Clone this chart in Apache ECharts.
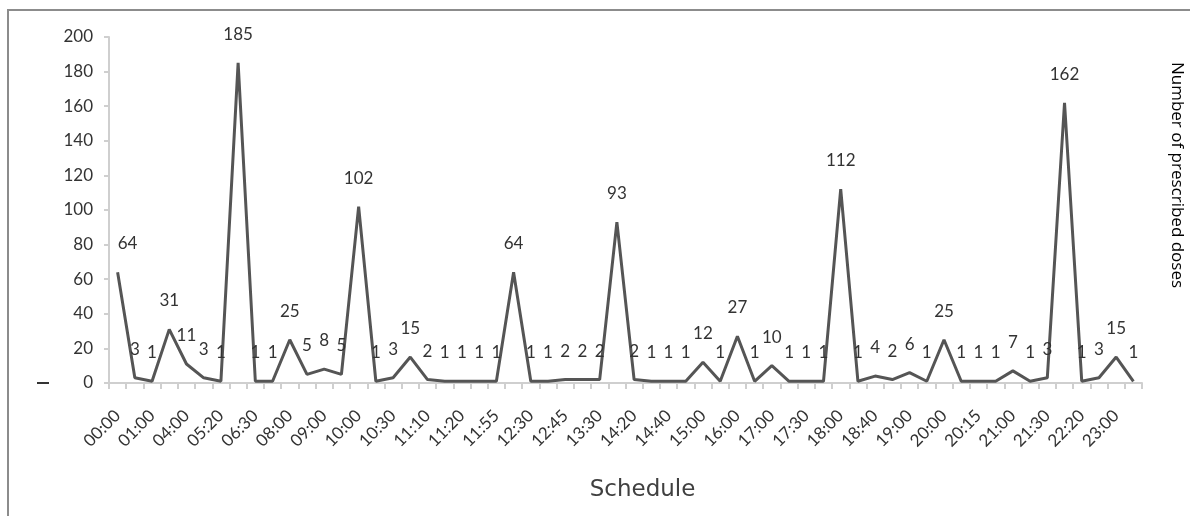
<!DOCTYPE html>
<html>
<head>
<meta charset="utf-8">
<script src="https://cdn.jsdelivr.net/npm/echarts@6/dist/echarts.min.js"></script>
<style>html,body{margin:0;padding:0;background:#fff}#c{width:1190px;height:516px}</style>
</head>
<body>
<div id="c"></div>
<script>
// Categories (only every other one is labelled in the reference)
const categories = [
  '00:00','00:30','01:00','02:00','04:00','05:00','05:20','06:00','06:30','07:00',
  '08:00','08:30','09:00','09:30','10:00','10:15','10:30','11:00','11:10','11:15',
  '11:20','11:30','11:55','12:00','12:30','12:40','12:45','13:00','13:30','14:00',
  '14:20','14:30','14:40','14:45','15:00','15:30','16:00','16:30','17:00','17:15',
  '17:30','17:45','18:00','18:30','18:40','18:45','19:00','19:30','20:00','20:10',
  '20:15','20:30','21:00','21:15','21:30','22:00','22:20','22:30','23:00','23:30'
];
const doses = [
  64, 3, 1, 31, 11, 3, 1, 185, 1, 1,
  25, 5, 8, 5, 102, 1, 3, 15, 2, 1,
  1, 1, 1, 64, 1, 1, 2, 2, 2, 93,
  2, 1, 1, 1, 12, 1, 27, 1, 10, 1,
  1, 1, 112, 1, 4, 2, 6, 1, 25, 1,
  1, 1, 7, 1, 3, 162, 1, 3, 15, 1
];
const yTicks = { min: 0, max: 200, interval: 20 };
const xTitle = 'Schedule';
const yTitle = 'Number of prescribed doses';

const labelFont = 'Lato';
const textColor = '#333333';
// first label is nudged right so it clears the value axis, as in the reference
const seriesData = doses.map((v, i) => i === 0
  ? { value: v, label: { show: true, position: 'top', distance: 19, offset: [10, 0], fontFamily: labelFont, fontSize: 17, color: textColor } }
  : v);

const chart = echarts.init(document.getElementById('c'), null, { renderer: 'canvas' });
chart.setOption({
  animation: false,
  backgroundColor: '#ffffff',
  grid: { left: 109, right: 48, top: 37, bottom: 133, containLabel: false },
  xAxis: {
    type: 'category',
    data: categories,
    boundaryGap: true,
    name: xTitle,
    nameLocation: 'middle',
    nameGap: 96,
    nameTextStyle: { fontFamily: 'DejaVu Sans', fontSize: 23, color: '#404040', padding: [0, 0, 0, 34] },
    axisLine: { show: true, lineStyle: { color: '#cfcfcf', width: 2 } },
    axisTick: { show: true, interval: 0, length: 6, lineStyle: { color: '#cfcfcf', width: 2 } },
    axisLabel: { interval: 1, rotate: 45, margin: 30, fontFamily: labelFont, fontSize: 17, color: textColor },
    splitLine: { show: false }
  },
  yAxis: {
    type: 'value',
    min: yTicks.min, max: yTicks.max, interval: yTicks.interval,
    axisLine: { show: true, lineStyle: { color: '#cfcfcf', width: 2 } },
    axisTick: { show: true, length: 5, lineStyle: { color: '#cfcfcf', width: 2 } },
    axisLabel: { margin: 16, fontFamily: labelFont, fontSize: 17, color: textColor },
    splitLine: { show: false }
  },
  series: [{
    type: 'line',
    data: seriesData,
    showSymbol: true,
    symbol: 'circle',
    symbolSize: 2,
    itemStyle: { color: 'rgba(0,0,0,0)', borderWidth: 0 },
    lineStyle: { color: '#555555', width: 3 },
    label: {
      show: true, position: 'top', distance: 19,
      fontFamily: labelFont, fontSize: 17, color: textColor
    }
  }],
  graphic: [
    { type: 'polyline', shape: { points: [[8, 516], [8, 10], [1190, 10]] }, style: { stroke: '#8c8c8c', lineWidth: 2, fill: null } },
    { type: 'line', shape: { x1: 37, y1: 383, x2: 49, y2: 383 }, style: { stroke: '#333333', lineWidth: 2 } },
    { type: 'text', x: 1177, y: 175, rotation: -Math.PI / 2,
      style: { text: yTitle, fontFamily: 'Open Sans', fontSize: 17, fill: '#000000', textAlign: 'center', textVerticalAlign: 'middle' } }
  ]
});
</script>
</body>
</html>
